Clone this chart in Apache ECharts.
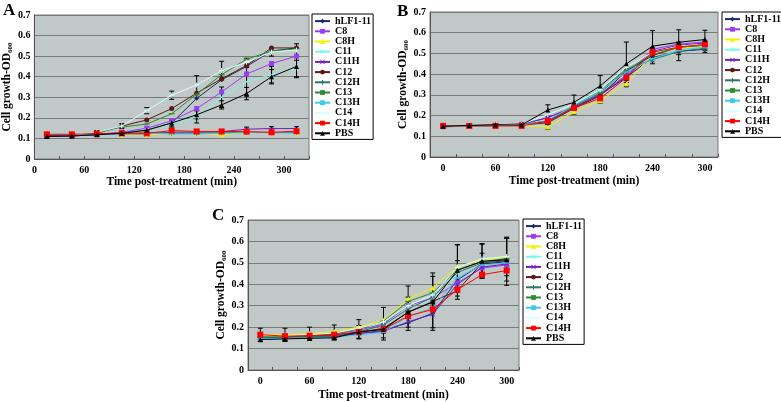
<!DOCTYPE html>
<html><head><meta charset="utf-8">
<script src="https://cdn.jsdelivr.net/npm/echarts@6/dist/echarts.min.js"></script>
<style>html,body{margin:0;padding:0;background:#fff}#c{width:781px;height:402px}</style>
</head><body><div id="c"></div>
<script>
// ---------- data ----------
const times = ['0','30','60','90','120','150','180','210','240','270','300'];
const seriesNames = ['hLF1-11','C8','C8H','C11','C11H','C12','C12H','C13','C13H','C14','C14H','PBS'];
const yTicks = [0,0.1,0.2,0.3,0.4,0.5,0.6,0.7];

// Panel A
const A_hLF = [0.110,0.112,0.118,0.128,0.140,0.175,0.295,0.385,0.450,0.525,0.540];
const A_C8  = [0.115,0.115,0.120,0.130,0.150,0.185,0.245,0.326,0.413,0.464,0.500];
const A_C8H = [0.120,0.118,0.120,0.118,0.118,0.125,0.125,0.118,0.128,0.128,0.128];
const A_C11 = [0.115,0.115,0.118,0.125,0.140,0.170,0.205,0.300,0.375,0.410,0.440];
const A_C11H= [0.112,0.113,0.118,0.122,0.122,0.130,0.130,0.133,0.145,0.148,0.148];
const A_C12 = [0.115,0.120,0.125,0.160,0.190,0.245,0.320,0.390,0.455,0.540,0.540];
const A_C12H= [0.118,0.118,0.122,0.125,0.128,0.125,0.125,0.128,0.130,0.128,0.130];
const A_C13 = [0.120,0.120,0.130,0.155,0.170,0.220,0.315,0.410,0.485,0.525,0.535];
const A_C13H= [0.120,0.120,0.118,0.122,0.125,0.122,0.122,0.125,0.128,0.128,0.125];
const A_C14 = [0.120,0.120,0.130,0.160,0.235,0.310,0.360,0.430,0.470,0.520,0.530];
const A_C14H= [0.120,0.120,0.123,0.125,0.125,0.138,0.134,0.134,0.133,0.130,0.135];
const A_PBS = [0.110,0.112,0.118,0.125,0.140,0.175,0.215,0.263,0.318,0.400,0.450];
const A_err_PBS = [0.008,0.008,0.008,0.008,0.010,0.015,0.020,0.020,0.030,0.035,0.055];
const A_err_C14 = [0.008,0.008,0.008,0.012,0.015,0.020,0.045,0.045,0.020,0.020,0.030];
const A_err_C11 = [0.008,0.008,0.008,0.010,0.010,0.015,0.030,0.050,0.070,0.040,0.040];
const A_err_C11H= [0.010,0.010,0.008,0.010,0.010,0.010,0.010,0.010,0.010,0.010,0.010];

// Panel B
const B_hLF = [0.148,0.152,0.155,0.160,0.170,0.240,0.300,0.385,0.480,0.510,0.520];
const B_C8  = [0.148,0.150,0.152,0.155,0.190,0.245,0.305,0.395,0.520,0.545,0.555];
const B_C8H = [0.148,0.150,0.150,0.152,0.145,0.218,0.272,0.354,0.495,0.525,0.535];
const B_C11 = [0.145,0.150,0.152,0.155,0.180,0.250,0.315,0.420,0.470,0.515,0.530];
const B_C11H= [0.148,0.150,0.152,0.158,0.190,0.240,0.300,0.390,0.510,0.540,0.550];
const B_C12 = [0.150,0.152,0.153,0.155,0.165,0.235,0.295,0.415,0.490,0.530,0.540];
const B_C12H= [0.145,0.150,0.152,0.155,0.175,0.250,0.320,0.425,0.470,0.510,0.525];
const B_C13 = [0.148,0.150,0.152,0.155,0.170,0.245,0.310,0.420,0.495,0.530,0.540];
const B_C13H= [0.145,0.150,0.150,0.153,0.175,0.250,0.320,0.410,0.475,0.515,0.530];
const B_C14 = [0.148,0.150,0.152,0.158,0.205,0.255,0.325,0.435,0.505,0.535,0.545];
const B_C14H= [0.150,0.150,0.150,0.150,0.174,0.237,0.283,0.383,0.506,0.531,0.544];
const B_PBS = [0.148,0.152,0.155,0.155,0.227,0.264,0.343,0.450,0.535,0.554,0.567];
const B_err_PBS = [0.004,0.004,0.004,0.004,0.025,0.035,0.050,0.105,0.075,0.060,0.045];
const B_err_hLF = [0.004,0.004,0.004,0.004,0.012,0.015,0.020,0.025,0.030,0.045,0.015];
const B_err_C8H = [0.004,0.004,0.004,0.004,0.012,0.012,0.012,0.015,0.020,0.020,0.020];

// Panel C
const C_hLF = [0.145,0.148,0.150,0.155,0.170,0.185,0.220,0.265,0.420,0.495,0.505];
const C_C8  = [0.160,0.158,0.162,0.168,0.185,0.215,0.300,0.337,0.406,0.476,0.490];
const C_C8H = [0.165,0.165,0.170,0.180,0.200,0.232,0.332,0.383,0.484,0.510,0.530];
const C_C11 = [0.150,0.152,0.155,0.160,0.175,0.200,0.290,0.330,0.450,0.505,0.515];
const C_C11H= [0.150,0.152,0.155,0.158,0.170,0.180,0.225,0.260,0.400,0.480,0.495];
const C_C12 = [0.155,0.155,0.158,0.162,0.175,0.195,0.270,0.320,0.370,0.500,0.510];
const C_C12H= [0.150,0.152,0.155,0.160,0.178,0.210,0.285,0.340,0.455,0.500,0.515];
const C_C13 = [0.155,0.158,0.160,0.170,0.190,0.228,0.320,0.360,0.468,0.505,0.520];
const C_C13H= [0.145,0.148,0.150,0.152,0.165,0.175,0.250,0.290,0.430,0.490,0.500];
const C_C14 = [0.160,0.160,0.165,0.172,0.195,0.225,0.300,0.350,0.480,0.518,0.530];
const C_C14H= [0.165,0.158,0.160,0.165,0.178,0.190,0.252,0.283,0.375,0.445,0.464];
const C_PBS = [0.142,0.145,0.148,0.150,0.178,0.190,0.270,0.317,0.465,0.507,0.515];
const C_err_PBS = [0.010,0.010,0.010,0.010,0.030,0.040,0.070,0.120,0.120,0.080,0.100];
const C_err_C8H = [0.030,0.030,0.030,0.030,0.035,0.060,0.060,0.070,0.100,0.080,0.090];
const C_err_hLF = [0.012,0.012,0.012,0.012,0.025,0.045,0.035,0.080,0.090,0.050,0.110];

// ---------- styles ----------
const FONT = "'Liberation Serif','Times New Roman',serif";
const SYM_X = 'path://M0,1L1,0L5,4L9,0L10,1L6,5L10,9L9,10L5,6L1,10L0,9L4,5Z';
const SYM_PLUS = 'path://M4,0H6V4H10V6H6V10H4V6H0V4H4Z';
const SYM_DASH = 'path://M0,4H10V6H0Z';
const styles = {
  'hLF1-11': {color:'#1c2a66', symbol:'diamond', size:5},
  'C8':      {color:'#9a3cf0', symbol:'rect', size:5},
  'C8H':     {color:'#f2f200', symbol:'triangle', size:5},
  'C11':     {color:'#7ff5e6', symbol:SYM_X, size:5},
  'C11H':    {color:'#6a22c0', symbol:SYM_X, size:5},
  'C12':     {color:'#5a1818', symbol:'circle', size:5},
  'C12H':    {color:'#2f7565', symbol:SYM_PLUS, size:5},
  'C13':     {color:'#2e8b2e', symbol:SYM_DASH, size:6},
  'C13H':    {color:'#3cc8f0', symbol:SYM_DASH, size:6},
  'C14':     {color:'#d8ffff', symbol:SYM_PLUS, size:5},
  'C14H':    {color:'#ff0000', symbol:'rect', size:6},
  'PBS':     {color:'#000000', symbol:'triangle', size:5}
};

const panels = [
  {letter:'A', data:[A_hLF,A_C8,A_C8H,A_C11,A_C11H,A_C12,A_C12H,A_C13,A_C13H,A_C14,A_C14H,A_PBS],
   errs:[[A_PBS,A_err_PBS],[A_C14,A_err_C14],[A_C11,A_err_C11],[A_C11H,A_err_C11H]],
   grid:{left:33, top:15, width:276, height:144}, legend:{left:312, top:14}, letterPos:[3,2], xGap:17},
  {letter:'B', data:[B_hLF,B_C8,B_C8H,B_C11,B_C11H,B_C12,B_C12H,B_C13,B_C13H,B_C14,B_C14H,B_PBS],
   errs:[[B_PBS,B_err_PBS],[B_hLF,B_err_hLF],[B_C8H,B_err_C8H]],
   grid:{left:430, top:12, width:288, height:145}, legend:{left:722, top:12}, letterPos:[397,3], xGap:18},
  {letter:'C', data:[C_hLF,C_C8,C_C8H,C_C11,C_C11H,C_C12,C_C12H,C_C13,C_C13H,C_C14,C_C14H,C_PBS],
   errs:[[C_PBS,C_err_PBS],[C_C8H,C_err_C8H],[C_hLF,C_err_hLF]],
   grid:{left:248, top:220, width:271, height:151}, legend:{left:523, top:219}, letterPos:[212,207], xGap:19}
];

const grids=[], xAxes=[], yAxes=[], series=[], legends=[], graphics=[];
const labelStyle = {fontFamily:FONT, fontWeight:'bold', fontSize:10, color:'#000'};
const yName = 'Cell growth-OD{s|600}';
const nameStyle = {fontFamily:FONT, fontWeight:'bold', fontSize:11.5, color:'#000',
  rich:{s:{fontFamily:FONT, fontWeight:'bold', fontSize:7, color:'#000', padding:[7,0,0,0]}}};

panels.forEach((p, gi) => {
  grids.push(Object.assign({show:true, backgroundColor:'#c0c9c8', borderColor:'#7a7a7a', borderWidth:1}, p.grid));
  const dataXIndex = xAxes.length;
  if (p.letter === 'A') {
    xAxes.push({type:'category', gridIndex:gi, data:times, boundaryGap:true, show:false});
    xAxes.push({type:'value', gridIndex:gi, min:0, max:330, interval:30, position:'bottom',
      axisLine:{lineStyle:{color:'#555'}}, axisTick:{show:true, inside:true, length:3, lineStyle:{color:'#555'}},
      splitLine:{show:false},
      axisLabel:Object.assign({margin:6, formatter:v => (v % 60 === 0 && v <= 300) ? String(v) : ''}, labelStyle),
      name:'Time post-treatment (min)', nameLocation:'middle', nameGap:p.xGap, nameTextStyle:nameStyle});
  } else {
    xAxes.push({type:'category', gridIndex:gi, data:times, boundaryGap:true,
      axisLine:{lineStyle:{color:'#555'}}, axisTick:{show:true, inside:true, length:3, interval:0, lineStyle:{color:'#555'}},
      axisLabel:Object.assign({margin:6, interval:1}, labelStyle),
      name:'Time post-treatment (min)', nameLocation:'middle', nameGap:p.xGap, nameTextStyle:nameStyle});
  }
  yAxes.push({type:'value', gridIndex:gi, min:yTicks[0], max:yTicks[yTicks.length-1], interval:0.1,
    axisLine:{show:true, lineStyle:{color:'#555'}}, axisTick:{show:false},
    splitLine:{show:true, lineStyle:{color:'#7a7a7a', width:1}},
    axisLabel:Object.assign({margin:4, formatter:v => v === 0 ? '0' : v.toFixed(1)}, labelStyle),
    name:yName, nameLocation:'middle', nameGap:20, nameRotate:90, nameTextStyle:nameStyle});
  seriesNames.forEach((n, si) => {
    const st = styles[n];
    series.push({type:'line', name:n, xAxisIndex:dataXIndex, yAxisIndex:gi, data:p.data[si],
      symbol:st.symbol, symbolSize:st.size, symbolKeepAspect:true, showSymbol:true,
      lineStyle:{color:st.color, width:1}, itemStyle:{color:st.color}, animation:false, z:3+si*0.01});
  });
  p.errs.forEach((pair, ei) => {
    const vals = pair[0], e = pair[1];
    series.push({type:'custom', name:'err'+gi+'_'+ei, xAxisIndex:dataXIndex, yAxisIndex:gi, animation:false, z:2,
      data: vals.map((v, i) => [i, v - e[i], v + e[i]]),
      renderItem:(params, api) => {
        const i = api.value(0);
        const a = api.coord([i, api.value(2)]), b = api.coord([i, api.value(1)]);
        const w = 2.5, st = {stroke:'#000', lineWidth:1};
        return {type:'group', children:[
          {type:'line', shape:{x1:a[0], y1:a[1], x2:b[0], y2:b[1]}, style:st},
          {type:'line', shape:{x1:a[0]-w, y1:a[1], x2:a[0]+w, y2:a[1]}, style:st},
          {type:'line', shape:{x1:b[0]-w, y1:b[1], x2:b[0]+w, y2:b[1]}, style:st}
        ]};
      }});
  });
  legends.push({orient:'vertical', left:p.legend.left, top:p.legend.top, data:seriesNames,
    backgroundColor:'#fff', borderColor:'#000', borderWidth:1, padding:[2,2,1,2],
    itemWidth:15, itemHeight:6, itemGap:0, selectedMode:false,
    textStyle:{fontFamily:FONT, fontWeight:'bold', fontSize:10, color:'#000', lineHeight:10.2}});
  graphics.push({type:'text', left:p.letterPos[0], top:p.letterPos[1],
    style:{text:p.letter, font:"bold 17px 'Liberation Serif', serif", fill:'#000'}});
});

const chart = echarts.init(document.getElementById('c'), null, {renderer:'canvas'});
chart.setOption({animation:false, grid:grids, xAxis:xAxes, yAxis:yAxes, series:series, legend:legends, graphic:graphics});
</script></body></html>
